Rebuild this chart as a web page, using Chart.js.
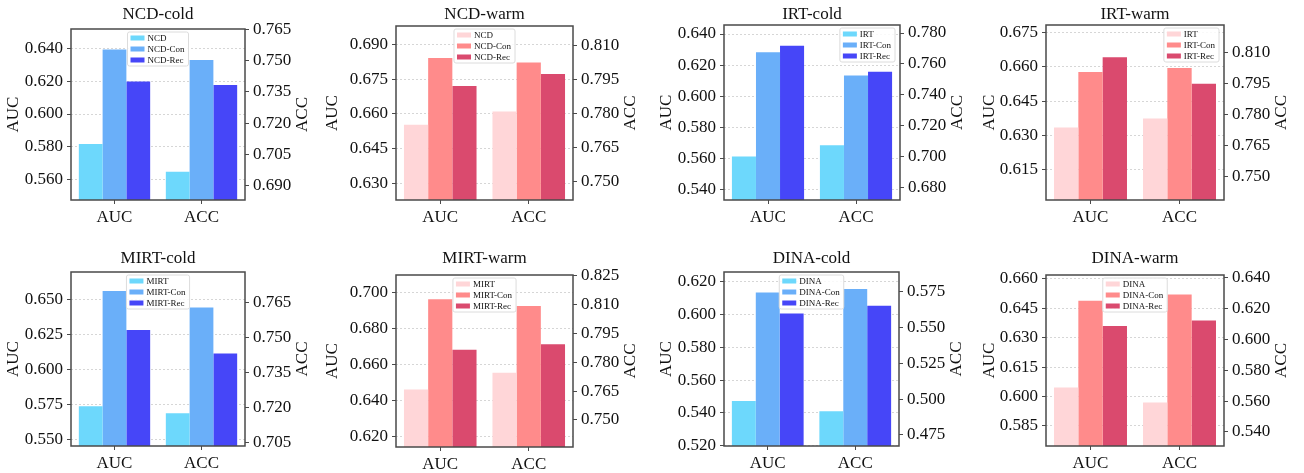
<!DOCTYPE html>
<html>
<head>
<meta charset="utf-8">
<script src="https://cdn.jsdelivr.net/npm/chart.js@4.4.1/dist/chart.umd.min.js"></script>
<style>
html,body{margin:0;padding:0;background:#fff;width:1304px;height:473px;overflow:hidden;position:relative}
canvas{position:absolute}
</style>
</head>
<body>
<script>
// ---------------- DATA ----------------
const titles = ['NCD-cold','NCD-warm','IRT-cold','IRT-warm','MIRT-cold','MIRT-warm','DINA-cold','DINA-warm'];
const models = ['NCD','NCD','IRT','IRT','MIRT','MIRT','DINA','DINA'];
const categories = ['AUC','ACC'];

// AUC bars (left axis)
const aucBase = [0.5816,0.6553,0.5613,0.6335,0.5738,0.6460,0.5473,0.6046];
const aucCon  = [0.6396,0.6842,0.6283,0.6577,0.6562,0.6963,0.6135,0.6488];
const aucRec  = [0.6200,0.6720,0.6324,0.6641,0.6283,0.6682,0.6008,0.6359];
// ACC bars (right axis)
const accBase = [0.6968,0.7809,0.7071,0.7781,0.7177,0.7746,0.4914,0.5591];
const accCon  = [0.7503,0.8024,0.7524,0.8027,0.7629,0.8093,0.5771,0.6291];
const accRec  = [0.7383,0.7974,0.7548,0.7950,0.7432,0.7894,0.5654,0.6122];

// axis ranges and ticks
const aucMin = [0.5473,0.6227,0.5334,0.6018,0.5455,0.6139,0.5198,0.5748];
const aucMax = [0.6521,0.6980,0.6458,0.6782,0.6697,0.7099,0.6261,0.6619];
const accMin = [0.6833,0.7420,0.6716,0.7385,0.7037,0.7359,0.4671,0.5309];
const accMax = [0.7651,0.8185,0.7852,0.8236,0.7781,0.8255,0.5890,0.6417];
const aucTicks = [
  [0.560,0.580,0.600,0.620,0.640],
  [0.630,0.645,0.660,0.675,0.690],
  [0.540,0.560,0.580,0.600,0.620,0.640],
  [0.615,0.630,0.645,0.660,0.675],
  [0.550,0.575,0.600,0.625,0.650],
  [0.620,0.640,0.660,0.680,0.700],
  [0.520,0.540,0.560,0.580,0.600,0.620],
  [0.585,0.600,0.615,0.630,0.645,0.660]
];
const accTicks = [
  [0.690,0.705,0.720,0.735,0.750,0.765],
  [0.750,0.765,0.780,0.795,0.810],
  [0.680,0.700,0.720,0.740,0.760,0.780],
  [0.750,0.765,0.780,0.795,0.810],
  [0.705,0.720,0.735,0.750,0.765],
  [0.750,0.765,0.780,0.795,0.810,0.825],
  [0.475,0.500,0.525,0.550,0.575],
  [0.540,0.560,0.580,0.600,0.620,0.640]
];

// ---------------- LAYOUT / STYLE ----------------
// plot area [left, top, right, bottom] in page pixels
const plotRects = [
  [71,29,245,200],[396,26,573,200],[724,25,900,200],[1046,25,1224,200],
  [71,272,245,446],[396,275,573,447],[724,272,899,446],[1046,275,1224,446]
];
const titleY = [15,15,15,15,259,259,259,259];
const leftLabelGap = [57,63,57,56,57,63,57,56];
const legendPos = ['center','center','right','right','center','center','center','center'];
const coldColors = ['#6dd8fc','#6aaff9','#4646f8'];
const warmColors = ['#ffd6d8','#ff8b8b','#da4a6e'];
const FONT = "'Liberation Serif','Times New Roman',serif";
const SIDE = 70, XH = 40;

const decor = {
  id:'decor',
  afterDraw(chart, args, o){
    const ctx = chart.ctx, a = chart.chartArea;
    ctx.save();
    // frame
    ctx.strokeStyle = '#4a4a4a'; ctx.lineWidth = 1.5;
    ctx.strokeRect(a.left, a.top, a.right - a.left, a.bottom - a.top);
    ctx.fillStyle = '#111';
    ctx.textAlign = 'center'; ctx.textBaseline = 'middle';
    // title
    ctx.font = '17px ' + FONT;
    ctx.fillText(o.title, (a.left + a.right) / 2, o.titleY);
    // axis titles
    const cy = (a.top + a.bottom) / 2;
    [[a.left - o.leftGap, 'AUC'], [a.right + 58, 'ACC']].forEach(([x, t]) => {
      ctx.save(); ctx.translate(x, cy); ctx.rotate(-Math.PI / 2);
      ctx.fillText(t, 0, 0); ctx.restore();
    });
    // legend
    ctx.font = '9px ' + FONT;
    const labels = o.labels;
    const tw = Math.max(...labels.map(l => ctx.measureText(l).width));
    const bw = 3 + 14 + 3 + tw + 4, bh = 34;
    const bx = o.legendPos === 'right' ? a.right - 5 - bw : (a.left + a.right) / 2 - bw / 2;
    const by = a.top + 3;
    ctx.fillStyle = 'rgba(255,255,255,0.85)';
    ctx.strokeStyle = '#dcdcdc'; ctx.lineWidth = 1;
    ctx.beginPath(); ctx.roundRect(bx, by, bw, bh, 2); ctx.fill(); ctx.stroke();
    ctx.textAlign = 'left';
    labels.forEach((l, k) => {
      const ry = by + 6 + 11 * k;
      ctx.fillStyle = o.colors[k];
      ctx.fillRect(bx + 3, ry - 2.5, 14, 5);
      ctx.fillStyle = '#111';
      ctx.fillText(l, bx + 20, ry + 0.5);
    });
    ctx.restore();
  }
};

// ---------------- CHARTS ----------------
titles.forEach((title, i) => {
  const [L, T, R, B] = plotRects[i];
  const top = Math.max(0, T - 30);
  const cv = document.createElement('canvas');
  const w = R - L + 2 * SIDE, h = B - top + XH;
  cv.width = w; cv.height = h;
  cv.style.left = (L - SIDE) + 'px'; cv.style.top = top + 'px';
  cv.style.width = w + 'px'; cv.style.height = h + 'px';
  document.body.appendChild(cv);

  const m = models[i];
  const labels = [m, m + '-Con', m + '-Rec'];
  const colors = title.endsWith('cold') ? coldColors : warmColors;
  const auc = [aucBase[i], aucCon[i], aucRec[i]];
  const acc = [accBase[i], accCon[i], accRec[i]];
  const datasets = [];
  labels.forEach((l, k) => datasets.push({label:l, data:[auc[k], null], yAxisID:'y', backgroundColor:colors[k]}));
  labels.forEach((l, k) => datasets.push({label:l, data:[null, acc[k]], yAxisID:'y1', backgroundColor:colors[k]}));

  const tickFont = {family:FONT, size:17};
  new Chart(cv, {
    type:'bar',
    data:{labels:categories, datasets},
    options:{
      responsive:false, animation:false,
      layout:{padding:{top:T - top, left:0, right:0, bottom:0}},
      datasets:{bar:{skipNull:true, barPercentage:1, categoryPercentage:0.82, borderWidth:0}},
      plugins:{legend:{display:false}, tooltip:{enabled:false},
        decor:{title, titleY:titleY[i] - top, leftGap:leftLabelGap[i], labels, colors, legendPos:legendPos[i]}},
      scales:{
        x:{
          afterFit:s => { s.height = XH; },
          grid:{offset:false, drawOnChartArea:false, drawTicks:true, tickLength:4, tickColor:'#4a4a4a', tickWidth:1},
          border:{display:false},
          ticks:{font:tickFont, color:'#111', padding:3}
        },
        y:{
          position:'left', min:aucMin[i], max:aucMax[i],
          afterFit:s => { s.width = SIDE; },
          afterBuildTicks:s => { s.ticks = aucTicks[i].map(v => ({value:v})); },
          grid:{color:'rgba(0,0,0,0.16)', lineWidth:1, tickLength:4, tickColor:'#4a4a4a'},
          border:{display:false, dash:[2,2]},
          ticks:{font:tickFont, color:'#111', padding:4, callback:v => v.toFixed(3)}
        },
        y1:{
          position:'right', min:accMin[i], max:accMax[i],
          afterFit:s => { s.width = SIDE; },
          afterBuildTicks:s => { s.ticks = accTicks[i].map(v => ({value:v})); },
          grid:{drawOnChartArea:false, tickLength:4, tickColor:'#4a4a4a'},
          border:{display:false},
          ticks:{font:tickFont, color:'#111', padding:4, callback:v => v.toFixed(3)}
        }
      }
    },
    plugins:[decor]
  });
});
</script>
</body>
</html>
